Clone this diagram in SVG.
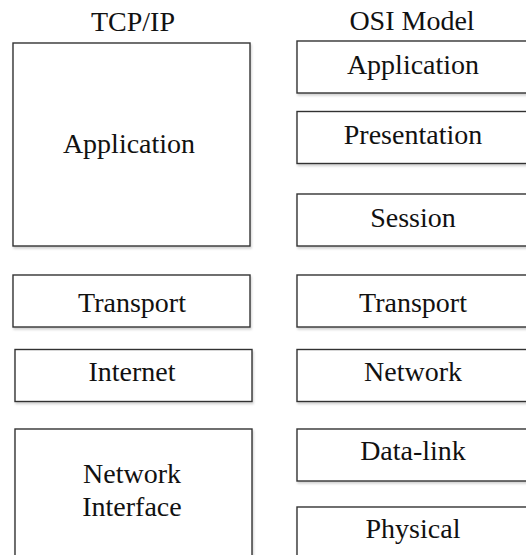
<svg xmlns="http://www.w3.org/2000/svg" width="526" height="555" viewBox="0 0 526 555">
<defs>
<filter id="sh" x="-5%" y="-5%" width="115%" height="120%">
<feDropShadow dx="1" dy="2" stdDeviation="1" flood-color="#000" flood-opacity="0.18"/>
</filter>
</defs>
<style>
.box{fill:#fff;stroke:#333;stroke-width:1.4;filter:url(#sh)}
.t{font-family:"Liberation Serif","Times New Roman",serif;font-size:28px;fill:#111;text-anchor:middle}
</style>
<rect width="526" height="555" fill="#fff"/>
<text class="t" x="133" y="31">TCP/IP</text>
<text class="t" x="412" y="30">OSI Model</text>
<g id="tcp-application"><rect class="box" x="13" y="43" width="237" height="203"/><text class="t" x="129" y="153">Application</text></g>
<g id="tcp-transport"><rect class="box" x="13" y="275" width="237" height="52"/><text class="t" x="132" y="312">Transport</text></g>
<g id="tcp-internet"><rect class="box" x="15" y="349.5" width="237" height="52"/><text class="t" x="132" y="381">Internet</text></g>
<g id="tcp-network-interface"><rect class="box" x="15" y="429" width="237" height="140"/><text class="t" x="132" y="483">Network</text><text class="t" x="132" y="516">Interface</text></g>
<g id="osi-application"><rect class="box" x="297" y="41" width="240" height="52"/><text class="t" x="413" y="74">Application</text></g>
<g id="osi-presentation"><rect class="box" x="297" y="111.5" width="240" height="52"/><text class="t" x="413" y="144">Presentation</text></g>
<g id="osi-session"><rect class="box" x="297" y="194" width="240" height="52"/><text class="t" x="413" y="227">Session</text></g>
<g id="osi-transport"><rect class="box" x="297" y="275" width="240" height="52"/><text class="t" x="413" y="312">Transport</text></g>
<g id="osi-network"><rect class="box" x="297" y="349.5" width="240" height="52"/><text class="t" x="413" y="381">Network</text></g>
<g id="osi-data-link"><rect class="box" x="297" y="429" width="240" height="52"/><text class="t" x="413" y="460">Data-link</text></g>
<g id="osi-physical"><rect class="box" x="297" y="507" width="240" height="60"/><text class="t" x="413" y="538">Physical</text></g>
<g id="connectors"></g>
</svg>
